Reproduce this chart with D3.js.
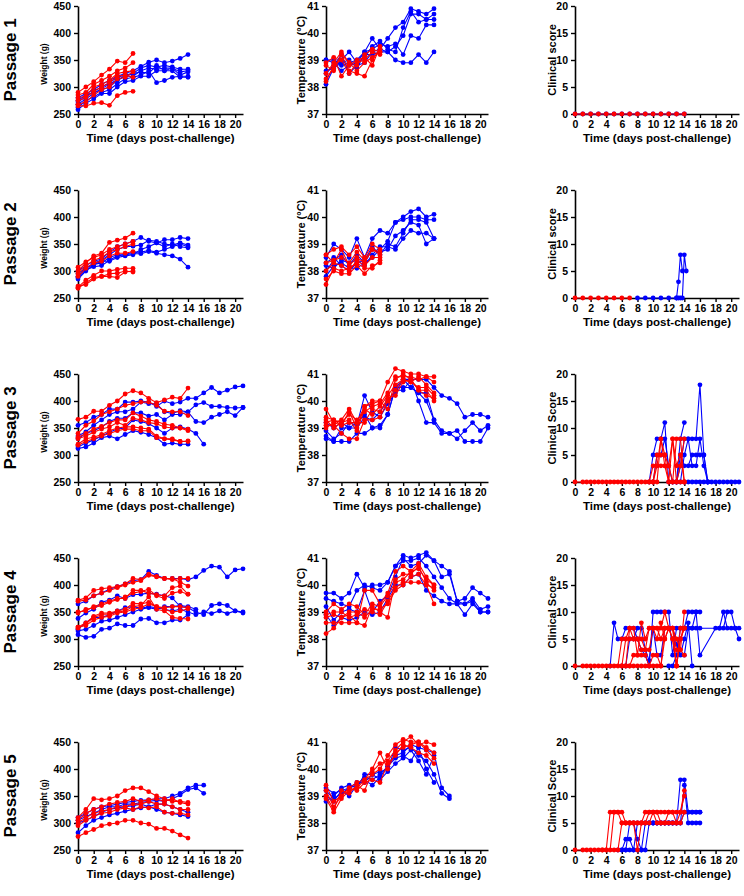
<!DOCTYPE html>
<html>
<head>
<meta charset="utf-8">
<script src="https://cdn.jsdelivr.net/npm/d3@7"></script>
<style>
  body { margin: 0; background: #fff; }
  svg { display: block; font-family: "Liberation Sans", Arial, sans-serif; }
</style>
</head>
<body>
<svg id="chart" width="744" height="896"></svg>
<script>
// ticks and labels
const dayTicks = [0, 2, 4, 6, 8, 10, 12, 14, 16, 18, 20];
const weightTicks = [250, 300, 350, 400, 450];
const tempTicks = [37, 38, 39, 40, 41];
const scoreTicks = [0, 5, 10, 15, 20];
const passageLabels = ["Passage 1", "Passage 2", "Passage 3", "Passage 4", "Passage 5"];
const scoreTitles = ["Clinical score", "Clinical score", "Clinical Score", "Clinical Score", "Clinical Score"];

// weight (g), index = day
const p1WeightRed = [
  [290, 300, 310, 322, 333, 348, 345, 362],
  [285, 290, 305, 312, 320, 330, 335, 345],
  [280, 283, 300, 305, 312, 325, 328, 330],
  [275, 280, 292, 300, 308, 320, 322, 318],
  [268, 272, 285, 295, 300, 315, 318, 328],
  [265, 265, 270, 271, 266, 284, 290, 292]
];
const p1WeightBlue = [
  [280, 288, 295, 305, 312, 320, 325, 330, 338, 346, 350, 345, 348, 353, 360],
  [272, 282, 292, 300, 308, 318, 322, 325, 335, 340, 337, 340, 337, 333, 333],
  [268, 278, 288, 297, 305, 314, 320, 320, 330, 335, 333, 335, 335, 328, 330],
  [262, 275, 282, 290, 295, 306, 315, 318, 322, 330, 308, 312, 318, 320, 320],
  [258, 270, 278, 288, 288, 300, 310, 312, 320, 320, 330, 330, 335, 322, 328],
  [275, 285, 290, 295, 300, 312, 320, 325, 328, 325, 340, 330, 330, 318, 318]
];
const p2WeightRed = [
  [300, 315, 328, 333, 353, 357, 361, 370],
  [307, 317, 325, 330, 340, 345, 350, 355],
  [295, 310, 320, 325, 335, 340, 345, 350],
  [290, 305, 315, 318, 328, 333, 333, 336],
  [270, 283, 292, 300, 300, 303, 305, 305],
  [268, 278, 288, 290, 290, 288, 298, 300],
  [272, 275, 285, 290, 295, 296, 300, 298]
];
const p2WeightBlue = [
  [300, 310, 318, 322, 335, 345, 350, 355, 362, 355, 352, 358, 358, 362, 360],
  [290, 305, 315, 320, 330, 340, 345, 346, 348, 357, 355, 350, 348, 352, 348],
  [288, 302, 308, 310, 320, 328, 330, 335, 335, 338, 335, 340, 345, 350, 345],
  [295, 305, 312, 315, 325, 330, 330, 332, 332, 336, 333, 330, 328, 322, 307],
  [285, 300, 312, 318, 318, 325, 328, 330, 340, 345, 352, 345, 350, 345, 343]
];
const p3WeightRed = [
  [366, 370, 381, 381, 392, 400, 413, 419, 415, 405, 397, 402, 407, 405, 424],
  [340, 355, 363, 375, 380, 385, 392, 395, 398, 398, 392, 381, 380, 380, 373],
  [333, 340, 348, 353, 360, 365, 365, 378, 372, 365, 362, 357, 355, 350, 348],
  [330, 335, 342, 348, 352, 360, 355, 368, 365, 360, 358, 352, 350, 350, 345],
  [320, 330, 333, 338, 345, 350, 352, 352, 350, 348, 335, 330, 330, 325, 326],
  [318, 325, 330, 335, 340, 345, 348, 348, 345, 345, 332, 330, 328, 325, 325]
];
const p3WeightBlue = [
  [355, 360, 370, 375, 385, 385, 398, 398, 400, 398, 390, 400, 395, 398, 405, 405, 415, 425, 415, 420, 426, 428],
  [335, 343, 355, 365, 375, 380, 380, 385, 398, 395, 395, 380, 377, 382, 380, 393, 397, 390, 390, 388, 387, 388],
  [330, 340, 345, 352, 362, 368, 368, 378, 378, 372, 375, 365, 375, 375, 380, 362, 360, 370, 375, 380, 373, 388],
  [315, 322, 328, 335, 342, 348, 350, 365, 362, 358, 350, 340, 350, 352, 348, 340, 320],
  [312, 315, 322, 332, 335, 330, 338, 345, 342, 338, 332, 320, 322, 320, 320]
];
const p4WeightRed = [
  [372, 376, 390, 393, 395, 397, 402, 412, 410, 420, 416, 412, 410, 412, 412],
  [370, 372, 380, 385, 390, 395, 400, 405, 408, 418, 415, 412, 412, 405, 398],
  [350, 352, 360, 365, 370, 375, 375, 390, 390, 385, 382, 380, 395, 398, 383],
  [348, 355, 358, 362, 368, 373, 378, 385, 388, 392, 380, 375, 385, 388, 383],
  [322, 330, 342, 348, 348, 352, 355, 366, 365, 368, 360, 358, 360, 360, 358],
  [320, 328, 340, 345, 345, 350, 352, 360, 362, 378, 355, 352, 340, 338, 337],
  [322, 325, 335, 340, 342, 348, 350, 355, 358, 365, 360, 355, 350, 352, 356]
];
const p4WeightBlue = [
  [365, 370, 380, 385, 392, 397, 402, 408, 410, 425, 418, 412, 412, 412, 410, 415, 427, 435, 433, 415, 428, 430],
  [338, 348, 355, 368, 372, 380, 375, 382, 383, 385, 383, 380, 376, 360, 358, 350, 345, 362, 365, 362, 352, 348],
  [318, 330, 340, 340, 345, 352, 358, 360, 357, 360, 358, 355, 352, 355, 350, 345, 350, 347, 352, 347, 352, 350],
  [315, 318, 325, 333, 335, 340, 345, 350, 355, 358, 355, 360, 360, 362, 360, 355],
  [308, 303, 305, 318, 320, 328, 325, 325, 337, 338, 330, 330, 335, 335, 345]
];
const p5WeightRed = [
  [310, 325, 345, 343, 345, 350, 360, 365, 365, 358, 350, 345, 340, 340, 338],
  [305, 318, 325, 330, 335, 338, 340, 345, 340, 343, 345, 340, 345, 338, 335],
  [300, 310, 318, 322, 325, 330, 330, 335, 335, 340, 335, 335, 330, 325, 325],
  [295, 305, 312, 318, 320, 325, 328, 325, 330, 328, 330, 320, 318, 318, 315],
  [275, 282, 288, 295, 298, 300, 305, 305, 300, 298, 290, 290, 285, 278, 272]
];
const p5WeightBlue = [
  [310, 318, 325, 330, 332, 335, 338, 340, 342, 343, 345, 345, 350, 355, 365, 370, 370],
  [305, 312, 318, 325, 330, 330, 335, 335, 338, 340, 342, 340, 345, 352, 362, 365, 355],
  [300, 305, 312, 320, 325, 328, 330, 332, 335, 330, 335, 335, 330, 325, 320],
  [282, 295, 305, 310, 315, 318, 322, 325, 328, 330, 325, 320, 318, 315, 312]
];

// temperature (°C), index = day
const p1TempRed = [
  [38.5, 38.9, 39.3, 38.9, 38.8, 39.2, 39.4, 39.3],
  [38.3, 38.7, 39.2, 38.6, 38.5, 38.4, 39.0, 39.4],
  [38.9, 39.1, 38.4, 38.8, 39.0, 39.1, 38.8, 39.5],
  [38.2, 38.8, 39.0, 38.5, 38.9, 39.0, 39.3, 39.2],
  [38.8, 38.6, 39.2, 38.9, 38.6, 38.9, 39.1, 39.3]
];
const p1TempBlue = [
  [38.1, 38.7, 39.0, 39.3, 38.9, 39.3, 39.8, 39.4, 39.8, 40.2, 40.4, 40.9, 40.8, 40.7, 40.9],
  [39.0, 38.9, 38.6, 38.8, 38.9, 39.1, 39.5, 39.7, 39.4, 39.3, 40.2, 40.8, 40.4, 40.5, 40.7],
  [38.5, 38.8, 39.2, 38.5, 38.8, 38.9, 39.3, 39.4, 39.3, 39.5, 39.9, 40.7, 40.7, 40.5, 40.5],
  [39.0, 39.0, 38.8, 38.9, 39.0, 39.3, 39.4, 39.6, 39.5, 39.6, 39.2, 39.9, 39.8, 40.3, 40.3],
  [38.6, 38.7, 38.9, 39.0, 38.7, 39.2, 39.2, 39.3, 39.3, 39.0, 38.9, 38.9, 39.2, 38.9, 39.3]
];
const p2TempRed = [
  [38.6, 38.8, 38.9, 38.6, 38.9, 38.5, 39.0, 38.8],
  [38.3, 38.4, 38.5, 38.3, 38.7, 38.4, 38.8, 38.7],
  [38.0, 38.3, 38.2, 38.0, 38.4, 38.2, 38.5, 38.5],
  [37.7, 38.0, 37.9, 37.9, 38.2, 37.9, 38.2, 38.3],
  [37.5, 38.1, 38.0, 38.1, 38.3, 38.1, 38.1, 38.4],
  [38.6, 38.3, 38.8, 38.2, 38.5, 38.3, 38.8, 38.6]
];
const p2TempBlue = [
  [38.5, 39.0, 38.8, 38.5, 39.2, 38.5, 39.2, 39.5, 39.4, 39.8, 40.0, 40.2, 40.3, 40.0, 40.1],
  [38.0, 38.4, 38.6, 38.2, 38.6, 38.3, 38.5, 38.8, 39.1, 39.8, 39.9, 40.0, 40.0, 39.9, 39.9],
  [37.8, 38.2, 38.3, 38.1, 38.1, 38.3, 38.8, 38.7, 38.8, 39.3, 39.5, 39.8, 39.7, 39.0, 39.2],
  [38.2, 38.1, 38.4, 38.3, 38.4, 38.2, 38.6, 38.9, 38.9, 38.8, 39.2, 39.5, 39.4, 39.4, 39.2],
  [38.3, 38.5, 38.2, 38.0, 38.3, 38.4, 38.9, 38.6, 39.0, 38.9, 39.4, 39.9, 39.9, 39.8, 39.2]
];
const p3TempRed = [
  [39.7, 39.2, 39.3, 39.7, 39.2, 39.8, 40.0, 40.0, 40.7, 41.2, 41.1, 41.0, 41.0, 40.9, 40.9],
  [39.4, 39.3, 39.2, 39.5, 39.3, 39.6, 39.8, 39.9, 40.3, 40.9, 40.9, 40.9, 40.8, 40.9, 40.7],
  [39.3, 39.0, 39.2, 39.3, 38.9, 39.7, 39.5, 39.8, 40.2, 40.6, 40.8, 40.7, 40.9, 40.6, 40.3],
  [39.1, 39.1, 38.8, 38.6, 38.6, 39.3, 39.3, 39.4, 40.0, 40.4, 40.8, 40.7, 40.5, 40.5, 40.2],
  [39.2, 39.3, 39.1, 39.2, 39.2, 39.2, 39.7, 39.6, 40.1, 40.2, 40.7, 40.8, 40.4, 40.4, 40.0],
  [39.0, 39.2, 39.1, 39.6, 39.0, 39.8, 39.9, 40.0, 39.7, 40.8, 41.0, 40.8, 40.4, 40.2, 40.1]
];
const p3TempBlue = [
  [38.9, 38.6, 38.8, 39.2, 39.1, 40.2, 39.6, 39.4, 39.9, 40.3, 40.8, 40.8, 40.8, 40.8, 40.5, 40.2, 40.1, 39.9, 39.4, 39.5, 39.5, 39.4],
  [38.6, 38.5, 38.5, 38.5, 38.8, 38.8, 39.0, 39.1, 39.5, 40.5, 40.5, 40.5, 40.3, 40.0, 39.3, 38.9, 38.8, 38.9, 38.5, 38.5, 38.5, 39.0],
  [39.2, 39.0, 39.2, 39.0, 39.0, 39.4, 39.3, 39.6, 40.0, 40.4, 40.4, 40.8, 40.0, 39.2, 39.2, 38.8, 38.8, 38.6, 38.9, 39.2, 38.9, 39.1],
  [38.7, 38.5, 39.0, 39.0, 39.2, 39.5, 39.0, 39.0, 39.5, 40.5, 40.8, 40.5, 40.3, 40.3, 39.3]
];
const p4TempRed = [
  [38.2, 38.4, 38.8, 38.9, 38.6, 39.8, 39.8, 39.3, 39.7, 40.5, 40.7, 40.5, 40.8, 40.3, 40.0],
  [38.6, 38.6, 38.6, 38.6, 38.6, 38.5, 39.2, 39.0, 38.8, 40.2, 40.4, 40.4, 40.7, 40.1, 39.8],
  [38.9, 39.0, 39.0, 38.8, 38.9, 39.1, 39.0, 38.9, 39.4, 39.9, 40.1, 40.1, 40.1, 40.0, 39.3],
  [39.0, 39.3, 39.1, 39.3, 39.2, 38.9, 39.3, 39.2, 39.6, 40.1, 40.2, 40.5, 40.6, 40.2, 40.0],
  [38.8, 38.9, 38.8, 39.0, 39.0, 38.8, 39.1, 39.1, 39.3, 39.8, 40.0, 40.3, 40.4, 40.0, 39.9]
];
const p4TempBlue = [
  [39.7, 39.7, 39.5, 39.7, 40.4, 39.9, 40.0, 40.0, 40.1, 40.7, 41.1, 41.0, 41.1, 41.2, 40.9, 40.7, 40.5, 39.4, 39.5, 39.9, 39.7, 39.5],
  [39.5, 39.4, 39.3, 39.2, 39.8, 40.0, 39.9, 39.8, 40.1, 40.7, 40.9, 40.9, 41.0, 40.7, 40.3, 39.9, 39.5, 39.3, 38.9, 39.3, 39.0, 39.0],
  [39.2, 38.7, 39.0, 39.1, 39.0, 39.8, 39.0, 39.4, 39.6, 40.3, 41.0, 40.7, 40.8, 41.1, 40.9, 40.3, 40.4, 39.4, 39.3, 39.5, 39.1, 39.2],
  [38.9, 38.5, 38.8, 38.7, 38.8, 39.0, 38.9, 39.0, 39.5, 40.0, 40.0, 40.3, 40.4, 39.8, 39.6, 39.4, 39.3, 39.3, 39.3, 39.4, 39.0, 39.0]
];
const p5TempRed = [
  [39.4, 38.8, 39.0, 39.3, 39.5, 39.6, 39.8, 40.0, 40.5, 40.9, 41.1, 41.0, 41.0, 40.8, 40.6],
  [39.0, 38.5, 39.2, 39.1, 39.4, 39.2, 39.9, 40.2, 40.3, 40.7, 41.0, 41.2, 40.9, 41.0, 40.9],
  [38.9, 38.4, 38.9, 39.2, 39.3, 39.6, 40.0, 40.6, 40.0, 40.6, 40.8, 40.9, 41.0, 40.7, 40.4],
  [39.2, 38.6, 39.0, 39.3, 39.2, 39.5, 39.6, 39.5, 40.2, 40.5, 40.9, 40.8, 40.6, 40.5, 40.2]
];
const p5TempBlue = [
  [39.2, 38.9, 39.1, 39.3, 39.4, 39.6, 39.4, 39.7, 40.1, 40.5, 40.6, 40.9, 40.8, 40.7, 40.6, 39.3, 39.0],
  [39.0, 38.8, 39.2, 39.3, 39.5, 39.5, 39.8, 39.9, 40.0, 40.8, 40.7, 40.8, 40.5, 40.3, 39.8, 39.1, 38.9],
  [38.8, 39.0, 39.3, 39.4, 39.3, 39.8, 39.8, 39.6, 39.9, 40.2, 40.4, 40.7, 40.3, 39.8, 40.5],
  [39.3, 39.1, 39.2, 39.0, 39.4, 39.7, 39.6, 39.8, 40.1, 40.4, 40.5, 40.3, 40.8, 40.0, 39.5]
];

// clinical score, [day, score]
const p1ScoreRed = [
  [[0,0],[1,0],[2,0],[3,0],[4,0],[5,0],[6,0],[7,0],[8,0],[9,0],[10,0],[11,0],[12,0],[13,0],[14,0]]
];
const p1ScoreBlue = [
  [[0,0],[1,0],[2,0],[3,0],[4,0],[5,0],[6,0],[7,0],[8,0],[9,0],[10,0],[11,0],[12,0],[13,0],[14,0]]
];
const p2ScoreRed = [
  [[0,0],[1,0],[2,0],[3,0],[4,0],[5,0],[6,0],[7,0]]
];
const p2ScoreBlue = [
  [[8,0],[9,0],[10,0],[11,0],[12,0],[13,0],[13.25,3],[13.5,8],[13.75,5]],
  [[13,0],[13.25,0],[13.5,0],[13.75,0],[14,8],[14.25,5]]
];
const p3ScoreRed = [
  [[0,0],[1,0],[1.5,0],[2,0],[2.5,0],[3,0],[3.5,0],[4,0],[4.5,0],[5,0],[5.5,0],[6,0],[6.5,0],[7,0],[7.5,0],[8,0],[8.5,0],[9,0],[9.5,0],[10,3],[10.5,3],[11,8],[11.5,3],[12,3],[12.5,0],[13,0],[13.5,0],[14,0]],
  [[9.5,0],[10,0],[10.5,5],[11,5],[11.5,5],[12,0],[12.5,8],[13,0],[13.5,3],[14,8]],
  [[10,0],[10.5,0],[11,8],[11.5,5],[12,3],[12.5,8],[13,3],[13.5,5],[14,0]],
  [[10,0],[10.5,3],[11,3],[11.5,3],[12,0],[12.5,0],[13,8],[13.5,8],[14,0]]
];
const p3ScoreBlue = [
  [[9.5,0],[10,5],[10.5,8],[11,8],[11.5,11],[12,0]],
  [[10,0],[10.5,5],[11,5],[11.5,8],[12,3],[12.5,0],[13,0],[13.5,8],[14,11]],
  [[12.5,0],[13,0],[13.5,3],[14,8],[14.5,8],[15,8],[15.5,8],[16,18],[16.5,5],[17,0]],
  [[13,0],[13.5,5],[14,3],[14.5,3],[15,5],[15.5,5],[16,5],[16.5,5],[17,0]],
  [[13.5,0],[14,5],[14.5,8],[15,3],[15.5,3],[16,8],[16.5,3],[17,0],[17.5,0],[18,0],[18.5,0],[19,0],[19.5,0],[20,0],[20.5,0],[21,0]],
  [[14,0],[14.5,0],[15,0],[15.5,0],[16,0],[16.5,0],[17,0]]
];
const p4ScoreRed = [
  [[0,0],[1,0],[1.5,0],[2,0],[2.5,0],[3,0],[3.5,0],[4,0],[4.5,0],[5,0],[5.5,0],[6,5],[6.5,5],[7,5],[7.5,5],[8,5],[8.5,5],[9,3],[9.5,3],[10,7],[10.5,7],[11,7],[11.5,10],[12,7],[12.5,7],[13,0],[13.5,7],[14,7]],
  [[6,0],[6.5,5],[7,7],[7.5,7],[8,2],[8.5,8],[9,5],[9.5,7],[10,7],[10.5,5],[11,8],[11.5,5],[12,7],[12.5,7],[13,5],[13.5,3],[14,10]],
  [[7,0],[7.5,2],[8,2],[8.5,2],[9,2],[9.5,0],[10,2],[10.5,2],[11,0],[11.5,5],[12,7],[12.5,7],[13,3],[13.5,3],[14,2]],
  [[6.5,0],[7,7],[7.5,5],[8,5],[8.5,3],[9,3],[9.5,7],[10,7],[10.5,7],[11,5],[11.5,7],[12,7],[12.5,5],[13,0],[13.5,5],[14,7]],
  [[6,0],[6.5,0],[7,0],[7.5,0],[8,0],[8.5,0],[9,0],[9.5,0],[10,0],[10.5,0],[11,0],[11.5,7],[12,7],[12.5,5],[13,0],[13.5,5],[14,7]]
];
const p4ScoreBlue = [
  [[4.5,0],[5,8],[5.5,5],[6,5],[6.5,7],[7,7],[7.5,7],[8,5],[8.5,3],[9,2],[9.5,0],[10,10],[10.5,10],[11,10],[11.5,10],[12,10],[12.5,2],[13,7],[13.5,7],[14,7],[14.5,10],[15,10],[15.5,10],[16,10]],
  [[6,0],[6.5,0],[7,5],[7.5,5],[8,7],[8.5,7],[9,3],[9.5,1],[10,7],[10.5,2],[11,2],[11.5,7],[12,7],[12.5,7],[13,4],[13.5,2],[14,5],[14.5,8],[15,0]],
  [[12,0],[12.5,0],[13,2],[13.5,7],[14,7],[14.5,7],[15,7],[15.5,7],[16,7],[18.5,7],[19,7],[19.5,10],[20,10],[20.5,7],[21,7]],
  [[14,2],[14.5,7],[15,7],[15.5,10],[16,2],[18,7],[18.5,7],[19,10],[19.5,7],[20,7],[20.5,7],[21,5]]
];
const p5ScoreRed = [
  [[0,0],[1,0],[1.5,0],[2,0],[2.5,0],[3,0],[3.5,0],[4,0],[4.5,7],[5,7],[5.5,7],[6,7],[6.5,5],[7,5],[7.5,5],[8,5],[8.5,5],[9,7],[9.5,7],[10,7],[10.5,7],[11,7],[11.5,7],[12,7],[12.5,7],[13,7],[13.5,7],[14,10]],
  [[3.5,0],[4,0],[4.5,0],[5,7],[5.5,7],[6,5],[6.5,5],[7,5],[7.5,5],[8,0],[8.5,5],[9,5],[9.5,7],[10,7],[10.5,5],[11,5],[11.5,5],[12,7],[12.5,7],[13,5],[13.5,7],[14,11]],
  [[5,0],[5.5,0],[6,5],[6.5,5],[7,5],[7.5,5],[8,5],[8.5,5],[9,5],[9.5,5],[10,7],[10.5,7],[11,5],[11.5,5],[12,5],[12.5,5],[13,5],[13.5,5],[14,7]]
];
const p5ScoreBlue = [
  [[5.5,0],[6,0],[6.5,2],[7,2],[7.5,0],[8,0],[8.5,0],[9,5],[9.5,5],[10,5],[10.5,5],[11,5],[11.5,5],[12,5],[12.5,5],[13,5],[13.5,13],[14,13],[14.5,7],[15,7],[15.5,7],[16,7]],
  [[6,0],[6.5,0],[7,5],[7.5,5],[8,2],[8.5,0],[9,0],[9.5,5],[10,5],[10.5,5],[11,5],[11.5,5],[12,5],[12.5,5],[13,5],[13.5,5],[14,12],[14.5,5],[15,5],[15.5,5],[16,5]],
  [[6.5,0],[7,0],[7.5,0],[8,5],[8.5,5],[9,5],[9.5,5],[10,5],[10.5,5],[11,5],[11.5,5],[12,5],[12.5,5],[13,5],[13.5,5],[14,7],[14.5,7],[15,7],[15.5,7],[16,7]]
];

const BLUE = "#0000ff";
const RED = "#ff0000";

// daily arrays -> [day, value]
const daily = s => s.map((v, i) => [i, v]);

const rows = [
  { weight: [p1WeightBlue, p1WeightRed], temp: [p1TempBlue, p1TempRed], score: [p1ScoreBlue, p1ScoreRed] },
  { weight: [p2WeightBlue, p2WeightRed], temp: [p2TempBlue, p2TempRed], score: [p2ScoreBlue, p2ScoreRed] },
  { weight: [p3WeightBlue, p3WeightRed], temp: [p3TempBlue, p3TempRed], score: [p3ScoreBlue, p3ScoreRed] },
  { weight: [p4WeightBlue, p4WeightRed], temp: [p4TempBlue, p4TempRed], score: [p4ScoreBlue, p4ScoreRed] },
  { weight: [p5WeightBlue, p5WeightRed], temp: [p5TempBlue, p5TempRed], score: [p5ScoreBlue, p5ScoreRed] }
];

const cols = [
  { key: "weight", x0: 78, x1: 243, domain: [250, 450], ticks: weightTicks, titleX: 47, titleSize: 8.5, pairs: false },
  { key: "temp", x0: 326, x1: 488, domain: [37, 41], ticks: tempTicks, titleX: 305, titleSize: 11, pairs: false },
  { key: "score", x0: 575, x1: 739, domain: [0, 20], ticks: scoreTicks, titleX: 556, titleSize: 11, pairs: true }
];

const rowTop = 6, rowStep = 184, plotH = 108;

const svg = d3.select("#chart");

rows.forEach((row, r) => {
  const top = rowTop + r * rowStep;
  const bottom = top + plotH;

  svg.append("text")
    .attr("transform", "translate(16," + ((top + bottom) / 2) + ") rotate(-90)")
    .attr("text-anchor", "middle")
    .attr("font-size", 17)
    .attr("font-weight", "bold")
    .text(passageLabels[r]);

  cols.forEach(c => {
    const x = d3.scaleLinear().domain([0, 21]).range([c.x0, c.x1]);
    const y = d3.scaleLinear().domain(c.domain).range([bottom, top]);
    const g = svg.append("g");

    const xAxis = g.append("g")
      .attr("transform", "translate(0," + bottom + ")")
      .call(d3.axisBottom(x).tickValues(dayTicks).tickSize(4).tickSizeOuter(0).tickPadding(3));
    const yAxis = g.append("g")
      .attr("transform", "translate(" + c.x0 + ",0)")
      .call(d3.axisLeft(y).tickValues(c.ticks).tickFormat(d3.format("d")).tickSize(4).tickSizeOuter(0).tickPadding(3));

    [xAxis, yAxis].forEach(a => {
      a.select(".domain").attr("stroke", "#000").attr("stroke-width", 1.6);
      a.selectAll(".tick line").attr("stroke", "#000").attr("stroke-width", 1.4);
      a.selectAll(".tick text")
        .attr("font-family", "'Liberation Sans', Arial, sans-serif")
        .attr("font-size", 10.5)
        .attr("font-weight", "bold")
        .attr("fill", "#000");
    });

    g.append("text")
      .attr("x", (x(0) + x(21)) / 2)
      .attr("y", bottom + 28)
      .attr("text-anchor", "middle")
      .attr("font-size", 11.5)
      .attr("font-weight", "bold")
      .text("Time (days post-challenge)");

    const yTitle = c.key === "weight" ? "Weight (g)" : c.key === "temp" ? "Temperature (\u00B0C)" : scoreTitles[r];
    g.append("text")
      .attr("transform", "translate(" + c.titleX + "," + ((top + bottom) / 2 + (c.key === "weight" ? 4 : 0)) + ") rotate(-90)")
      .attr("text-anchor", "middle")
      .attr("font-size", c.titleSize)
      .attr("font-weight", "bold")
      .text(yTitle);

    const line = d3.line().x(d => x(d[0])).y(d => y(d[1]));
    const groups = row[c.key];
    [[groups[0], BLUE], [groups[1], RED]].forEach(([series, color]) => {
      series.forEach(s => {
        const pts = c.pairs ? s : daily(s);
        g.append("path")
          .datum(pts)
          .attr("d", line)
          .attr("fill", "none")
          .attr("stroke", color)
          .attr("stroke-width", 1.1);
        g.selectAll(null)
          .data(pts)
          .enter()
          .append("circle")
          .attr("cx", d => x(d[0]))
          .attr("cy", d => y(d[1]))
          .attr("r", 2.4)
          .attr("fill", color);
      });
    });
  });
});
</script>
</body>
</html>
